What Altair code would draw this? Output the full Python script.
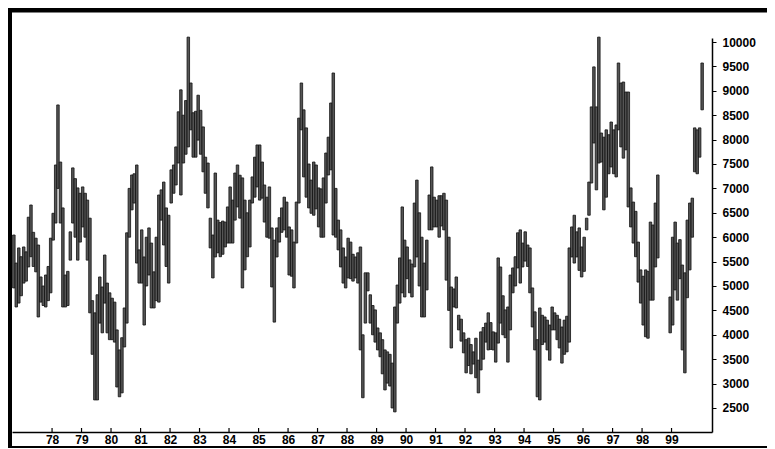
import altair as alt
import pandas as pd

# Monthly high / low bars, Sep 1976 .. Jan 2000 (None = no bar)
first_month = "1976-09-01"
high = [
    6045, 5470, 5780, 5600,
    5800, 5700, 6410, 6660, 6100, 5980, 5840, 5185, 5000, 5225, 5400, 5980,
    6490, 7480, 8710, 7540, 6600, 5225, 5300, 6110, 7420, 7200, 7010, 6900,
    7030, 6900, 6760, 6390, 4700, 4450, 4820, 5185, 4980, 5635, 5060, 4860,
    4750, 4670, 4100, 3690, 3940, 4550, 6090, 7000, 7275, 7300, 7480, 5740,
    6150, 5595, 6000, 6190, 5880, 5290, 6000, 6865, 6970, 7130, 6600, 6450,
    7380, 7480, 7850, 8570, 9020, 8500, 8800, 10100, 9160, 8550, 8580, 8910,
    8600, 8260, 7640, 7520, 6390, 6045, 7315, 6350, 6300, 6330, 6310, 6620,
    7030, 6760, 7315, 7480, 7270, 7215, 6760, 6500, 6760, 7235, 7640, 7890,
    7890, 7540, 7070, 6820, 7030, 6190, 5940, 6190, 6400, 6600, 6820, 6720,
    6210, 6150, 5900, 6720, 8440, 9160, 8610, 8240, 7500, 7170, 7540, 7480,
    7010, 6990, 7215, 7725, 8050, 8750, 9365, 7000, 6350, 6150, 5780, 5595,
    5980, 5900, 5650, 5595, 5680, 5800, 4000, 5270, 5270, 4820, 4600, 4510,
    4140, 4040, 3900, 3690, 3650, 3600, 3420, 4570, 5020, 5575, 6620, 5940,
    5800, 5535, 5450, 6700, 7170, 6500, 6000, 5470, 5940, 6865, 7440, 6820,
    6760, 6850, 6850, 6900, 6760, 6000, 4980, 4940, 5185, 4400, 4320, 4040,
    3900, 3930, 3800, 3650, 3930, 3480, 4060, 4150, 4240, 4450, 4250, 4060,
    4040, 5575, 5390, 4800, 4510, 4570, 5225, 5370, 5600, 6090, 6150, 5880,
    6110, 5840, 5780, 4960, 4470, 3900, 4550, 4400, 4365, 4300, 4200, 4570,
    4450, 4400, 4320, 4160, 4300, 4380, 5780, 6210, 6450, 6110, 6190, 5800,
    6000, 6390, 7130, 8670, 9490, 8670, 10100, 8135, 8050, 8200, 8100, 8360,
    8200, 8300, 9570, 9160, 9180, 8975, 8975, 7010, 6720, 6530, 5900, 5330,
    5200, 5330, 5300, 6310, 6250, 6700, 7275, None, None, None, None, 4775,
    6000, 6310, 5880, 5950, 5430, 5270, 6350, 6700, 6800, 8240, 8200, 8240,
    9570,
]
low = [
    4960, 4570, 4650, 4800,
    5060, 5100, 5390, 5600, 5400, 5290, 4365, 4670, 4600, 4570, 4700, 4860,
    5940, 6290, 7000, 6290, 4570, 4570, 4600, 5530, 6290, 6000, 5530, 5900,
    6210, 6000, 5530, 4450, 3600, 2665, 2665, 4240, 4040, 4650, 4040, 3900,
    3900, 3850, 2930, 2730, 2810, 3750, 4240, 6000, 6560, 6700, 5470, 5060,
    5060, 4200, 5000, 5225, 4550, 4550, 4700, 4670, 6350, 5840, 5400, 5060,
    6700, 6900, 7070, 7520, 6865, 7520, 7700, 7850, 8200, 7640, 7640, 7990,
    7700, 7340, 6900, 6600, 5780, 5165, 5595, 5680, 5600, 5650, 5800, 5880,
    5880, 5880, 6350, 6620, 6390, 4960, 5330, 5600, 5800, 6700, 6820, 7030,
    6760, 6800, 6310, 6000, 5980, 4980, 4260, 5595, 5900, 6100, 6150, 6000,
    5225, 5200, 4960, 5880, 6700, 8200, 7235, 6820, 6600, 6490, 6450, 6580,
    6210, 6000, 6000, 6700, 7275, 7380, 6045, 6000, 5740, 5390, 5060, 4960,
    5165, 5150, 5100, 5165, 5060, 3690, 2710, 4240, 4900, 4240, 4000, 3850,
    3690, 3550, 3200, 2870, 3010, 2950, 2500, 2420, 4240, 4650, 4860, 4775,
    5150, 4860, 4775, 5390, 5595, 5000, 4365, 4365, 4920, 6150, 6150, 6210,
    6210, 6000, 6230, 6150, 5120, 4500, 3730, 4570, 4550, 4100, 3870, 3630,
    3220, 3370, 3200, 3400, 3120, 2810, 3280, 3500, 3850, 3690, 3700, 3690,
    3440, 3830, 4240, 4000, 3940, 3440, 4100, 4860, 5000, 5370, 5060, 5390,
    5510, 5400, 4860, 4160, 3690, 2730, 2665, 3800, 3850, 3690, 3480, 4100,
    4100, 3900, 3730, 3420, 3600, 3650, 3850, 5595, 5470, 5595, 5320, 5185,
    5300, 6150, 6450, 7110, 7930, 6970, 7520, 7540, 6560, 6820, 7300, 7440,
    7300, 7235, 8200, 7850, 7620, 7790, 6620, 6210, 5880, 5600, 5080, 4650,
    4200, 3960, 3930, 4710, 4710, 5390, 5575, None, None, None, None, 4040,
    4200, 4920, 4710, 5150, 3690, 3220, 4760, 5330, 6000, 7340, 7300, 7640,
    8610,
]
year_ticks = list(range(1978, 2000))
price_ticks = list(range(2500, 10001, 500))

months = pd.date_range(first_month, periods=len(high), freq="MS") + pd.Timedelta(days=14)
df = pd.DataFrame({"date": months.strftime("%Y-%m-%d"), "high": high, "low": low}).dropna()
tick_df = pd.DataFrame({"date": [f"{y}-01-01" for y in year_ticks]})

FONT = "Liberation Sans"

xscale = alt.Scale(
    type="utc",
    domain=[alt.DateTime(year=1976, month=8, date=23, utc=True),
            alt.DateTime(year=2000, month=5, date=16, utc=True)],
    padding=0,
)
yscale = alt.Scale(domain=[2008, 10082], zero=False, nice=False, padding=0)

x_axis = alt.Axis(
    values=[alt.DateTime(year=y, month=1, date=1, utc=True) for y in year_ticks],
    format="%y", title=None, grid=False, ticks=False, labelPadding=2,
    labelAngle=0, labelFont=FONT, labelFontSize=12, labelFontWeight="bold",
    labelColor="black", domainColor="black", domainWidth=1.5,
    labelFlush=False, labelOverlap=False, labelBound=False,
)
y_axis = alt.Axis(
    orient="right", values=price_ticks, format="d", title=None, grid=False,
    tickSize=4, tickColor="black", tickWidth=1, labelPadding=6,
    labelFont=FONT, labelFontSize=12, labelFontWeight="bold", labelColor="black",
    domainColor="black", domainWidth=1.5,
)

bars = alt.Chart(df).mark_bar(
    width=2.5, fill="#555555", stroke="#111111", strokeWidth=0.8
).encode(
    x=alt.X("date:T", scale=xscale, axis=x_axis),
    y=alt.Y("low:Q", scale=yscale, axis=y_axis),
    y2="high:Q",
)

xticks = alt.Chart(tick_df).mark_rule(color="black", strokeWidth=1.2).encode(
    x=alt.X("date:T", scale=xscale, axis=x_axis),
    y=alt.value(390), y2=alt.value(394),
)

one = pd.DataFrame({"k": [0]})
top_border = alt.Chart(one).mark_rule(color="black", strokeWidth=5).encode(
    x=alt.value(-4), x2=alt.value(760), y=alt.value(-28))
left_border = alt.Chart(one).mark_rule(color="black", strokeWidth=4).encode(
    x=alt.value(-2), y=alt.value(-30), y2=alt.value(412))
bottom_border = alt.Chart(one).mark_rule(color="black", strokeWidth=2).encode(
    x=alt.value(-4), x2=alt.value(760), y=alt.value(409))

chart = alt.layer(bars, xticks, top_border, left_border, bottom_border).properties(
    width=700, height=394,
    padding={"left": 4, "top": 30, "right": 55, "bottom": 16},
    autosize=alt.AutoSizeParams(type="none"),
    background="white",
).configure_view(stroke=None)

chart.save("out.html", embed_options={"renderer": "svg", "actions": False})
